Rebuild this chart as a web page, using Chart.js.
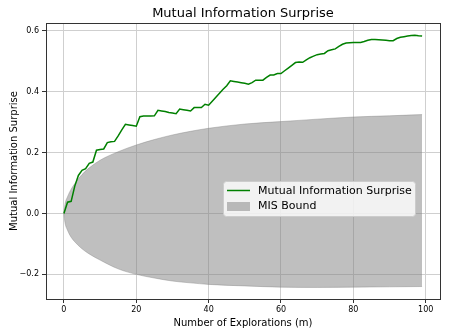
<!DOCTYPE html>
<html>
<head>
<meta charset="utf-8">
<script src="https://cdn.jsdelivr.net/npm/chart.js@4/dist/chart.umd.min.js"></script>
<style>
  html, body { margin: 0; padding: 0; background: #fff; }
  #wrap { width: 449px; height: 336px; }
</style>
</head>
<body>
<div id="wrap"><canvas id="myChart" width="449" height="336"></canvas></div>
<script>
// explorations 0..99 and the surprise curve
const explorations = [0,1,2,3,4,5,6,7,8,9,10,11,12,13,14,15,16,17,18,19,20,21,22,23,24,25,26,27,28,29,
  30,31,32,33,34,35,36,37,38,39,40,41,42,43,44,45,46,47,48,49,50,51,52,53,54,55,56,57,58,59,
  60,61,62,63,64,65,66,67,68,69,70,71,72,73,74,75,76,77,78,79,80,81,82,83,84,85,86,87,88,89,
  90,91,92,93,94,95,96,97,98,99];
const surprise = [0,0.037,0.04,0.09,0.125,0.142,0.147,0.165,0.169,0.208,0.21,0.212,0.233,0.236,0.237,
  0.255,0.275,0.293,0.291,0.289,0.287,0.318,0.32,0.32,0.32,0.321,0.339,0.337,0.335,0.332,
  0.33,0.328,0.343,0.341,0.339,0.337,0.348,0.348,0.348,0.359,0.356,0.369,0.382,0.395,0.408,
  0.42,0.436,0.434,0.432,0.43,0.428,0.425,0.43,0.438,0.438,0.438,0.447,0.455,0.455,0.46,
  0.46,0.469,0.478,0.487,0.496,0.498,0.497,0.505,0.512,0.517,0.522,0.524,0.526,0.535,0.538,
  0.541,0.549,0.556,0.56,0.561,0.562,0.562,0.562,0.565,0.569,0.572,0.572,0.571,0.57,0.569,
  0.568,0.568,0.575,0.579,0.581,0.583,0.585,0.586,0.584,0.583];

// MIS bound (read at a few steps)
const boundSteps = [0,0.3,1,2,3,5,7,10,15,20,25,30,35,40,50,60,70,80,90,99];
const boundUpper = [0,0.03,0.055,0.08,0.098,0.128,0.15,0.175,0.203,0.225,0.243,0.258,0.27,0.28,0.294,0.302,0.31,0.317,0.321,0.325];
const boundLower = [0,-0.03,-0.055,-0.078,-0.093,-0.116,-0.133,-0.153,-0.182,-0.2,-0.212,-0.222,-0.228,-0.233,-0.238,-0.242,-0.243,-0.242,-0.241,-0.24];

const xTicks = [0,20,40,60,80,100];
const yTicks = [-0.2,0.0,0.2,0.4,0.6];

const chartTitle = "Mutual Information Surprise";

const FONT = "'DejaVu Sans', sans-serif";
const bandColor = "rgba(128,128,128,0.5)";

// title centred over the axes (matplotlib style), not over the canvas
const axesTitle = {
  id: "axesTitle",
  afterDraw(chart) {
    const a = chart.chartArea;
    const ctx = chart.ctx;
    ctx.save();
    ctx.fillStyle = "#000";
    ctx.font = "13px " + FONT;
    ctx.textAlign = "center";
    ctx.textBaseline = "middle";
    ctx.fillText(chartTitle, (a.left + a.right) / 2, 13.5);
    ctx.restore();
  }
};

// legend drawn inside the plot, like matplotlib
const boxLegend = {
  id: "boxLegend",
  afterDraw(chart) {
    const ctx = chart.ctx;
    const x = 223.5, y = 181.5, w = 192, h = 35;
    ctx.save();
    ctx.beginPath();
    ctx.roundRect(x, y, w, h, 3);
    ctx.fillStyle = "rgba(255,255,255,0.8)";
    ctx.fill();
    ctx.strokeStyle = "#cccccc";
    ctx.lineWidth = 1;
    ctx.stroke();

    ctx.strokeStyle = chart.data.datasets[0].borderColor;
    ctx.lineWidth = 1.5;
    ctx.beginPath();
    ctx.moveTo(227, 190.5);
    ctx.lineTo(250, 190.5);
    ctx.stroke();

    ctx.fillStyle = bandColor;
    ctx.fillRect(227, 202, 23, 9);

    ctx.fillStyle = "#000";
    ctx.font = "11px " + FONT;
    ctx.textBaseline = "middle";
    ctx.fillText(chart.data.datasets[0].label, 258, 191);
    ctx.fillText(chart.data.datasets[1].label, 258, 206.5);
    ctx.restore();
  }
};

// full frame round the plot area
const frame = {
  id: "frame",
  afterDatasetsDraw(chart) {
    const a = chart.chartArea;
    const ctx = chart.ctx;
    ctx.save();
    ctx.strokeStyle = "#333";
    ctx.lineWidth = 1;
    ctx.strokeRect(Math.round(a.left) + 0.5, Math.round(a.top) + 0.5,
      Math.round(a.right - a.left), Math.round(a.bottom - a.top));
    ctx.restore();
  }
};

const ctx = document.getElementById("myChart").getContext("2d");
const myChart = new Chart(ctx, {
  type: "line",
  data: {
    datasets: [
      {
        label: "Mutual Information Surprise",
        data: explorations.map((m, i) => ({ x: m, y: surprise[i] })),
        borderColor: "#008000",
        borderWidth: 1.5,
        pointRadius: 0,
        fill: false,
        tension: 0,
        order: 0
      },
      {
        label: "MIS Bound",
        data: boundSteps.map((m, i) => ({ x: m, y: boundUpper[i] })),
        borderColor: bandColor,
        borderWidth: 0.8,
        backgroundColor: bandColor,
        pointRadius: 0,
        fill: "+1",
        cubicInterpolationMode: "monotone",
        order: 1
      },
      {
        label: "MIS Bound lower",
        data: boundSteps.map((m, i) => ({ x: m, y: boundLower[i] })),
        borderColor: bandColor,
        borderWidth: 0.8,
        pointRadius: 0,
        fill: false,
        cubicInterpolationMode: "monotone",
        order: 1
      }
    ]
  },
  options: {
    responsive: false,
    animation: false,
    devicePixelRatio: 1,
    layout: { padding: { left: 0, right: 9, top: 23, bottom: 0 } },
    plugins: {
      legend: { display: false },
      tooltip: { enabled: false },
      title: { display: false }
    },
    scales: {
      x: {
        type: "linear",
        min: -4.95,
        max: 103.95,
        afterBuildTicks: (s) => { s.ticks = xTicks.map(v => ({ value: v })); },
        afterFit: (s) => { s.height = 37; },
        ticks: {
          color: "#000",
          font: { family: FONT, size: 8 },
          padding: 2,
          maxRotation: 0,
          callback: (v) => String(v)
        },
        grid: { color: "#cfcfcf", lineWidth: 1, tickLength: 4, tickColor: "#333" },
        border: { color: "#333" },
        title: {
          display: true,
          text: "Number of Explorations (m)",
          color: "#000",
          font: { family: FONT, size: 10, lineHeight: 1.2 },
          padding: { top: 0, bottom: 7 }
        }
      },
      y: {
        min: -0.281,
        max: 0.626,
        afterBuildTicks: (s) => { s.ticks = yTicks.map(v => ({ value: v })); },
        afterFit: (s) => { s.width = 46; },
        ticks: {
          color: "#000",
          font: { family: FONT, size: 8 },
          padding: 3,
          callback: (v) => v.toFixed(1).replace("-", "\u2212")
        },
        grid: { color: "#cfcfcf", lineWidth: 1, tickLength: 4, tickColor: "#333" },
        border: { color: "#333" },
        title: {
          display: true,
          text: "Mutual Information Surprise",
          color: "#000",
          font: { family: FONT, size: 10, lineHeight: 1.2 },
          padding: { top: 8, bottom: 0 }
        }
      }
    }
  },
  plugins: [frame, boxLegend, axesTitle]
});
</script>
</body>
</html>
